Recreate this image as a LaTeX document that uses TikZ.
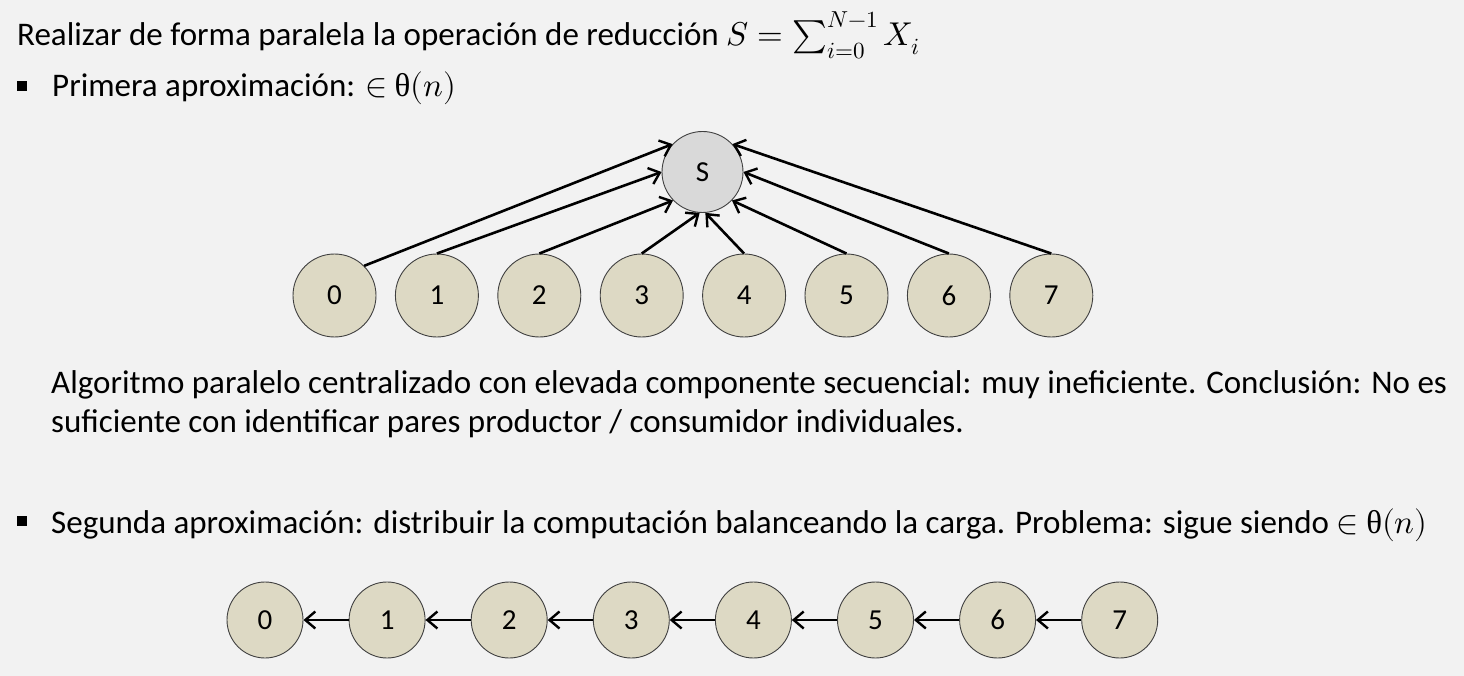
\documentclass[tikz,border=0pt]{standalone}
\usepackage{fontspec}
\usepackage{unicode-math}
\setmainfont{Carlito}
\setmathfont{Latin Modern Math}
\newfontfamily\grk{Liberation Serif}
\usetikzlibrary{arrows.meta}
\definecolor{bg}{HTML}{F2F2F2}
\definecolor{beige}{HTML}{DDD9C4}
\definecolor{sgray}{HTML}{D9D9D9}
\definecolor{edge}{HTML}{404040}
\begin{document}
\begin{tikzpicture}[x=1pt,y=-1pt,
  txt/.style={anchor=base west, inner sep=0pt, font=\fontsize{33}{40}\selectfont},
  bul/.style={fill=black, minimum size=9.5pt, inner sep=0pt},
  proc/.style={circle, draw=edge, line width=0.9pt, fill=beige, minimum size=83pt, inner sep=0pt, font=\fontsize{29}{29}\selectfont},
  chainnode/.style={proc, minimum size=76pt},
  sumnode/.style={proc, fill=sgray, minimum size=81pt},
  arr/.style={-{Straight Barb[length=10pt,width=17pt,line width=2.4pt]}, line width=2.6pt, black}]
\fill[bg] (0,0) rectangle (1464,676);
\useasboundingbox (0,0) rectangle (1464,676);

% texts
\node[txt] (t1) at (17,46) {Realizar de forma paralela la operación de reducción $S=\sum_{i=0}^{N-1}X_i$};
\node[bul] (b1) at (22,86) {};
\node[txt] (t2) at (52,97) {Primera aproximación: $\in$ {\grk θ}$(n)$};
\node[txt] (t3) at (51,393) {Algoritmo paralelo centralizado con elevada componente secuencial: muy ineficiente. Conclusión: No es};
\node[txt] (t4) at (51,432) {suficiente con identificar pares productor / consumidor individuales.};
\node[bul] (b2) at (22,521) {};
\node[txt] (t5) at (51,533) {Segunda aproximación: distribuir la computación balanceando la carga. Problema: sigue siendo $\in$ {\grk θ}$(n)$};

% first approach
\node[sumnode] (S) at (702.5,172) {S};
\foreach \i in {0,...,7} {
  \node[proc] (p\i) at ({334.5+102.4*\i},295.5) {\i};
}
\draw[arr] (p0.45) -- (S.137);
\draw[arr] (p1.north) -- (S.180);
\draw[arr] (p2.north) -- (S.224);
\draw[arr] (p3.north) -- (S.266);
\draw[arr] (p4.north) -- (S.274);
\draw[arr] (p5.north) -- (S.316);
\draw[arr] (p6.north) -- (S.0);
\draw[arr] (p7.north) -- (S.43);

% second approach
\foreach \i in {0,...,7} {
  \node[chainnode] (c\i) at ({265+122.1*\i},620) {\i};
}
\foreach \i [evaluate=\i as \j using int(\i+1)] in {0,...,6} {
  \draw[arr] (c\j.west) -- (c\i.east);
}
\end{tikzpicture}
\end{document}
